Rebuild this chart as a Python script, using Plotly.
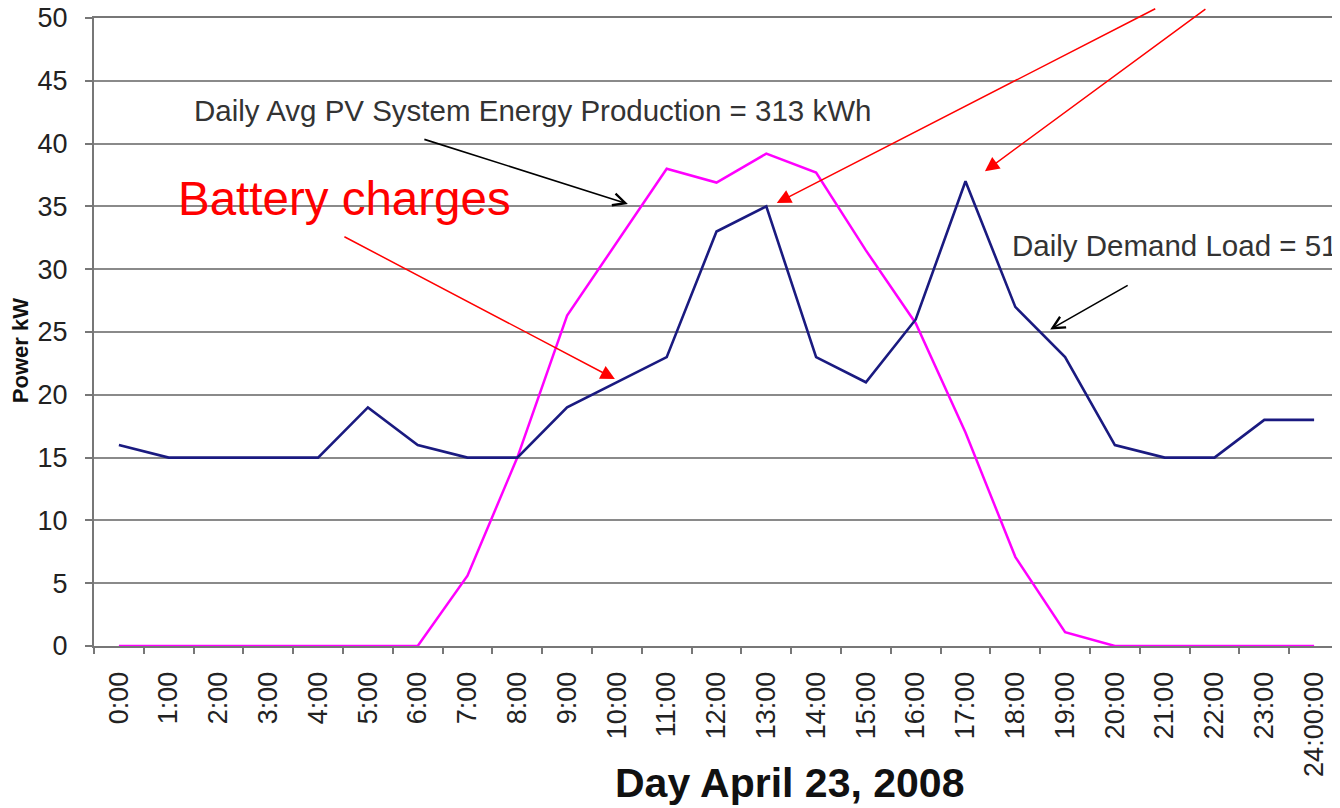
import plotly.graph_objects as go

hours = ["0:00", "1:00", "2:00", "3:00", "4:00", "5:00", "6:00", "7:00", "8:00", "9:00",
         "10:00", "11:00", "12:00", "13:00", "14:00", "15:00", "16:00", "17:00", "18:00",
         "19:00", "20:00", "21:00", "22:00", "23:00", "24:00:00"]

demand_kw = [16, 15, 15, 15, 15, 19, 16, 15, 15, 19, 21, 23, 33, 35, 23, 21, 26, 37, 27,
             23, 16, 15, 15, 18, 18]

pv_kw = [0, 0, 0, 0, 0, 0, 0, 5.6, 15, 26.3, 32.1, 38, 36.9, 39.2, 37.7, 31.5, 25.7, 17,
         7.1, 1.1, 0, 0, 0, 0, 0]

y_ticks = list(range(0, 55, 5))

FONT = "Liberation Sans, Arial, sans-serif"
GRID = "#8a8a8a"

fig = go.Figure()
fig.add_trace(go.Scatter(x=hours, y=pv_kw, mode="lines",
                         line=dict(color="#FF00FF", width=2.5), name="PV"))
fig.add_trace(go.Scatter(x=hours, y=demand_kw, mode="lines",
                         line=dict(color="#1a1a80", width=2.6), name="Demand"))

fig.update_layout(
    width=1340, height=808,
    margin=dict(l=86, r=9, t=10, b=170, autoexpand=False),
    paper_bgcolor="white", plot_bgcolor="white",
    showlegend=False,
    font=dict(family=FONT, color="#222"),
)
fig.update_xaxes(
    type="category", categoryorder="array", categoryarray=hours,
    range=[-0.5, len(hours) - 0.5], automargin=False,
    tickson="boundaries", ticks="outside", ticklen=6, tickwidth=2, tickcolor="#777",
    tickangle=-90, tickfont=dict(size=27, family=FONT, color="#222"),
    ticklabelstandoff=13, ticklabeloverflow="allow",
    showline=True, linecolor="#777", linewidth=2, mirror=True,
    showgrid=False, zeroline=False,
)
fig.update_yaxes(
    range=[0, 50], tickvals=y_ticks, automargin=False,
    ticks="outside", ticklen=7, tickwidth=2, tickcolor="#777",
    tickfont=dict(size=27, family=FONT, color="#222"),
    ticklabelstandoff=12, ticklabeloverflow="allow",
    showline=True, linecolor="#777", linewidth=2, mirror=True,
    showgrid=True, gridcolor=GRID, gridwidth=2, zeroline=False,
)

annotations = [
    # axis titles
    dict(text="<b>Day April 23, 2008</b>", xref="paper", yref="paper", x=0.559, y=-0.218,
         showarrow=False, font=dict(size=41, family=FONT, color="#111"),
         xanchor="center", yanchor="middle"),
    dict(text="<b>Power kW</b>", xref="paper", yref="paper", x=-0.0595, y=0.471,
         showarrow=False, textangle=-90, font=dict(size=22, family=FONT, color="#111"),
         xanchor="center", yanchor="middle"),
    # labels
    dict(text="Daily Avg PV System Energy Production = 313 kWh", xref="x", yref="y",
         x=1.46, y=42.6, showarrow=False, xanchor="left", yanchor="middle",
         font=dict(size=29.5, family=FONT, color="#333")),
    dict(text="Battery charges", xref="x", yref="y", x=1.14, y=35.6, showarrow=False,
         xanchor="left", yanchor="middle", font=dict(size=47.5, family=FONT, color="#FF0000")),
    dict(text="Daily Demand Load = 511 kWh", xref="x", yref="y", x=17.89, y=31.9,
         showarrow=False, xanchor="left", yanchor="middle",
         font=dict(size=29.5, family=FONT, color="#333")),
    # arrows
    dict(text="", xref="x", yref="y", x=10.22, y=35.2, ax=-205, ay=-65,
         showarrow=True, arrowhead=5, arrowsize=1.5, arrowwidth=1.6, arrowcolor="#000"),
    dict(text="", xref="x", yref="y", x=18.7, y=25.2, ax=79, ay=-45,
         showarrow=True, arrowhead=5, arrowsize=1.5, arrowwidth=1.6, arrowcolor="#000"),
    dict(text="", xref="x", yref="y", x=9.96, y=21.26, ax=-272, ay=-143,
         showarrow=True, arrowhead=2, arrowsize=1.9, arrowwidth=1.5, arrowcolor="#FF0000"),
    dict(text="", xref="x", yref="y", x=13.21, y=35.27, ax=380, ay=-211,
         showarrow=True, arrowhead=2, arrowsize=1.9, arrowwidth=1.5, arrowcolor="#FF0000"),
    dict(text="", xref="x", yref="y", x=17.39, y=37.8, ax=222, ay=-179,
         showarrow=True, arrowhead=2, arrowsize=1.9, arrowwidth=1.5, arrowcolor="#FF0000"),
]
fig.update_layout(annotations=annotations)

fig.write_html("out.html")
